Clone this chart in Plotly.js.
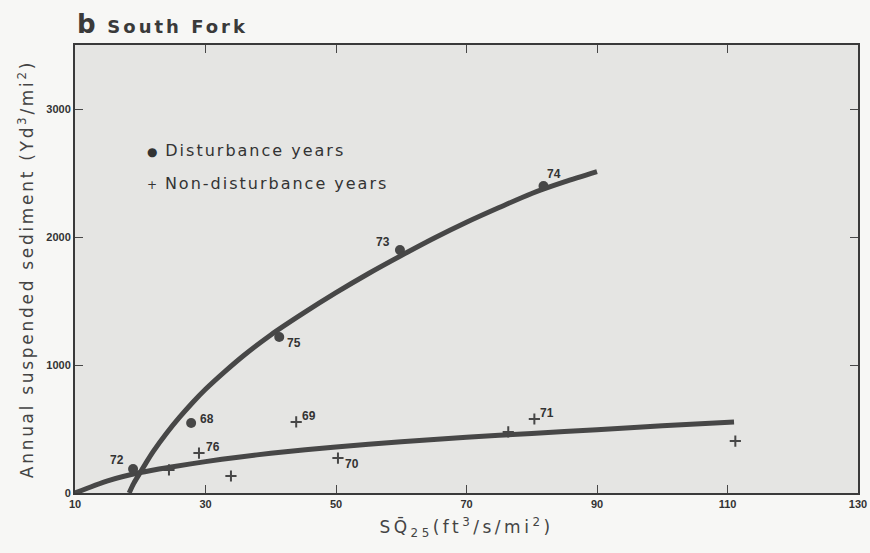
<!DOCTYPE html>
<html><head><meta charset="utf-8">
<script src="https://cdn.plot.ly/plotly-3.0.1.min.js"></script>
<style>
html,body{margin:0;padding:0;background:#f7f7f5;}
.ytitle{letter-spacing:2.7px;}
.xtitle{letter-spacing:3.5px;}
.annotation-text[data-unformatted*="years"]{letter-spacing:2px;}
.annotation-text[data-unformatted*="South"]{letter-spacing:3px;}
</style>
</head><body>
<div id="chart" style="width:870px;height:553px;"></div>
<script>
// Disturbance years (circles)
const distYears = ['72','68','75','73','74'];
const distX = [18.9, 27.8, 41.3, 59.8, 81.8];
const distY = [188, 547, 1219, 1898, 2398];
// Non-disturbance years (crosses)
const nonYears = ['', '76', '', '69', '70', '', '71', ''];
const nonX = [24.4, 29.0, 33.9, 43.9, 50.3, 76.4, 80.4, 111.2];
const nonY = [180, 312, 133, 555, 273, 477, 578, 406];
// Fitted curves
const distCurveX = [18.3, 19, 20, 21, 22, 24, 26, 28, 30, 33, 36, 40, 45, 50, 55, 60, 65, 70, 75, 80, 85, 90];
const distCurveY = [0, 75, 160, 245, 325, 465, 590, 705, 810, 950, 1080, 1235, 1405, 1565, 1715, 1855, 1990, 2115, 2230, 2340, 2430, 2510];
const nonCurveX = [10, 15, 20, 25, 30, 35, 40, 50, 60, 70, 80, 90, 100, 111];
const nonCurveY = [0, 95, 160, 205, 245, 280, 310, 360, 400, 435, 465, 495, 525, 555];
const xTicks = [10, 30, 50, 70, 90, 110, 130];
const yTicks = [0, 1000, 2000, 3000];
const legendLabels = ['Disturbance years', 'Non-disturbance years'];

const ink = '#474747';
const traces = [
  {x: nonCurveX, y: nonCurveY, mode: 'lines', line: {color: ink, width: 5, shape: 'spline', smoothing: 0.8}, hoverinfo: 'skip'},
  {x: distCurveX, y: distCurveY, mode: 'lines', line: {color: ink, width: 5, shape: 'spline', smoothing: 0.8}, hoverinfo: 'skip'},
  {x: distX, y: distY, mode: 'markers', marker: {symbol: 'circle', size: 10, color: ink}},
  {x: nonX, y: nonY, mode: 'markers', marker: {symbol: 'cross-thin', size: 8, line: {color: ink, width: 2}}}
];

const labelOffsets = {
  '72': [-16, -9], '68': [16, -4], '75': [15, 6], '73': [-17, -8], '74': [10, -12],
  '76': [14, -6], '69': [13, -6], '70': [14, 6], '71': [13, -6]
};
const numFont = {family: 'Liberation Sans, Arial', size: 12, color: '#333', weight: 'bold'};
const annotations = [];
distYears.forEach((t, i) => {
  if (!t) return;
  const o = labelOffsets[t];
  annotations.push({x: distX[i], y: distY[i], text: t, showarrow: false, xshift: o[0], yshift: -o[1], font: numFont});
});
nonYears.forEach((t, i) => {
  if (!t) return;
  const o = labelOffsets[t];
  annotations.push({x: nonX[i], y: nonY[i], text: t, showarrow: false, xshift: o[0], yshift: -o[1], font: numFont});
});
// legend as text
annotations.push({xref: 'paper', yref: 'paper', x: 0.089, y: 0.765, xanchor: 'left', yanchor: 'middle', showarrow: false,
  text: '<span style="font-size:12px">● </span>' + legendLabels[0], font: {family: 'DejaVu Sans', size: 16, color: '#333'}});
annotations.push({xref: 'paper', yref: 'paper', x: 0.089, y: 0.69, xanchor: 'left', yanchor: 'middle', showarrow: false,
  text: '<span style="font-size:12px">+ </span>' + legendLabels[1], font: {family: 'DejaVu Sans', size: 16, color: '#333'}});
// panel title
annotations.push({xref: 'paper', yref: 'paper', x: 0, y: 1.008, xanchor: 'left', yanchor: 'bottom', showarrow: false,
  text: '<b><span style="font-size:26px">b</span></b> <b>South Fork</b>', font: {family: 'DejaVu Sans', size: 18, color: '#3a3a3a'}});

const layout = {
  width: 870, height: 553,
  margin: {l: 75, r: 12, t: 45, b: 60},
  paper_bgcolor: '#f7f7f5', plot_bgcolor: '#e5e5e3',
  showlegend: false,
  xaxis: {range: [10, 130], tickvals: xTicks, ticktext: xTicks.map(String), ticks: 'inside', ticklen: 8, tickcolor: ink,
    showline: true, linecolor: '#3a3a3a', linewidth: 2, mirror: 'ticks', showgrid: false, zeroline: false,
    tickfont: {family: 'Liberation Sans, Arial', size: 11, color: '#333', weight: 'bold'},
    title: {text: 'SQ̄<sub>25</sub>(ft<sup>3</sup>/s/mi<sup>2</sup>)', font: {family: 'DejaVu Sans', size: 17, color: '#444'}, standoff: 12}},
  yaxis: {range: [0, 3500], tickvals: yTicks, ticktext: yTicks.map(String), ticks: 'inside', ticklen: 8, tickcolor: ink,
    showline: true, linecolor: '#3a3a3a', linewidth: 2, mirror: 'ticks', showgrid: false, zeroline: false,
    tickfont: {family: 'Liberation Sans, Arial', size: 11, color: '#333', weight: 'bold'},
    title: {text: 'Annual suspended sediment (Yd<sup>3</sup>/mi<sup>2</sup>)', font: {family: 'DejaVu Sans', size: 17, color: '#444'}, standoff: 8}},
  annotations: annotations
};
Plotly.newPlot('chart', traces, layout, {displayModeBar: false, staticPlot: true});
</script>
</body></html>
